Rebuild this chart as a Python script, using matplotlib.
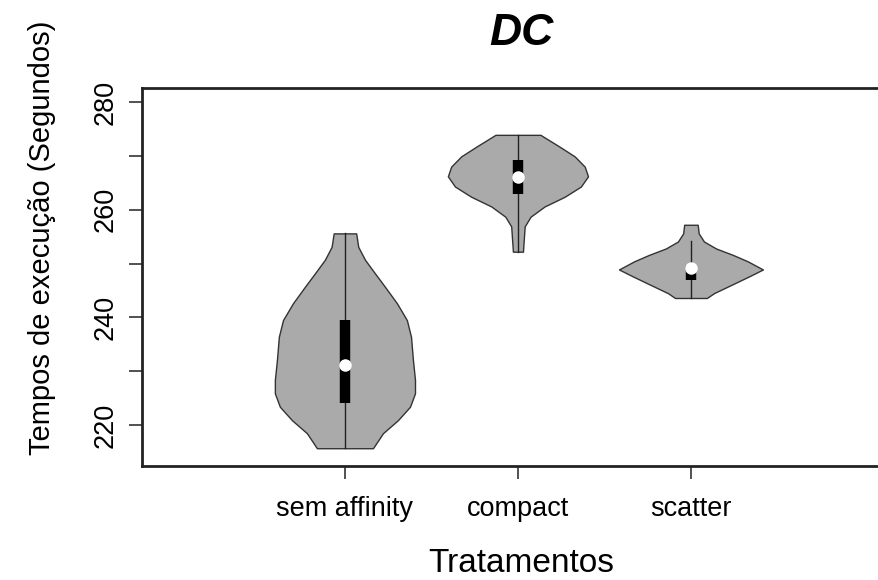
import matplotlib
matplotlib.use("Agg")
import matplotlib.pyplot as plt
import numpy as np

plt.rcParams["font.family"] = ["Liberation Sans", "DejaVu Sans"]

categories = ["sem affinity", "compact", "scatter"]

# violin outlines: y levels (s) and half widths (x units)
sem_levels = [255.6, 253.1, 250.7, 248.2, 245.7, 242.6, 239.5, 236.4, 232.1, 228.4, 225.9, 223.4, 220.9, 218.5, 215.7]
sem_half = [0.065, 0.077, 0.116, 0.173, 0.231, 0.301, 0.358, 0.382, 0.393, 0.405, 0.405, 0.376, 0.306, 0.220, 0.162]

compact_levels = [273.9, 271.7, 269.9, 268.0, 266.2, 264.3, 262.4, 260.6, 258.7, 256.9, 252.2]
compact_half = [0.130, 0.241, 0.328, 0.386, 0.405, 0.364, 0.270, 0.154, 0.073, 0.039, 0.029]

scatter_levels = [257.2, 255.6, 254.1, 252.8, 251.6, 250.4, 248.9, 247.6, 246.0, 244.5, 243.6]
scatter_half = [0.039, 0.045, 0.075, 0.145, 0.243, 0.329, 0.416, 0.335, 0.231, 0.133, 0.092]

# box summary: lower whisker, q1, median, q3, upper whisker
whisk_lo = [215.7, 252.2, 243.6]
q1 = [224.1, 262.9, 247.0]
median = [231.2, 266.0, 249.1]
q3 = [239.5, 269.3, 249.6]
whisk_hi = [255.6, 273.9, 254.1]

levels = [sem_levels, compact_levels, scatter_levels]
halves = [sem_half, compact_half, scatter_half]

fig = plt.figure(figsize=(8.79, 5.80), dpi=100)
ax = fig.add_axes([142 / 879, 1 - 466 / 580, 1 - 142 / 879, (466 - 88) / 580])

for i, (lv, hw) in enumerate(zip(levels, halves)):
    pos = i + 1
    lv = np.array(lv)
    hw = np.array(hw)
    ax.fill_betweenx(lv, pos - hw, pos + hw, facecolor="#aaaaaa",
                     edgecolor="#333333", linewidth=1.0, zorder=2)
    ax.plot([pos, pos], [whisk_lo[i], whisk_hi[i]], color="#222222", lw=1.0, zorder=3)
    ax.plot([pos, pos], [q1[i], q3[i]], color="black", lw=7.5,
            solid_capstyle="butt", zorder=4)
    ax.plot(pos, median[i], "o", color="white", ms=9, mew=0, zorder=5)

ax.set_xlim(-0.173, 4.087)
ax.set_ylim(212.4, 282.6)
ax.set_xticks([1, 2, 3])
ax.set_xticklabels(categories, fontsize=19.5)
ax.set_yticks(np.arange(220, 281, 10))
ax.set_yticklabels(["220", "", "240", "", "260", "", "280"], fontsize=19.5,
                   rotation=90, va="center")
ax.tick_params(axis="both", length=9.5, width=1.2, color="#333333")
ax.tick_params(axis="x", pad=12)
ax.tick_params(axis="y", pad=7)
for side in ["left", "top", "bottom"]:
    ax.spines[side].set_linewidth(2.0)
    ax.spines[side].set_color("#222222")
ax.spines["right"].set_visible(False)

fig.text(521 / 879, 1 - 45 / 580, "DC", fontsize=32, fontweight="bold",
         fontstyle="italic", ha="center", va="baseline")
fig.text(42 / 879, 1 - 238 / 580, "Tempos de execução (Segundos)", fontsize=21,
         rotation=90, ha="center", va="center")
fig.text(521 / 879, 1 - 572 / 580, "Tratamentos", fontsize=24,
         ha="center", va="baseline")

fig.savefig("out.png", dpi=100)
